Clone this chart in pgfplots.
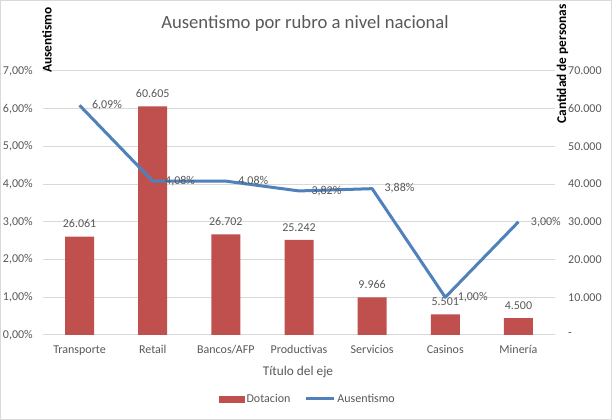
\documentclass[border=0pt]{standalone}
\usepackage{pgfplots}
\pgfplotsset{compat=1.18}
\usepackage{fontspec}
\setmainfont{Carlito}
\definecolor{barred}{HTML}{C0504D}
\definecolor{lineblue}{HTML}{4F81BD}
\definecolor{txtgray}{HTML}{595959}
\definecolor{gridgray}{HTML}{D9D9D9}
\newcommand\ft{\fontsize{12bp}{14bp}\selectfont}
\newcommand\fm{\fontsize{13.33bp}{16bp}\selectfont}
\begin{document}
\begin{tikzpicture}
\useasboundingbox (0,0) rectangle (612bp,420bp);
\fill[white] (0,0) rectangle (612bp,420bp);
\draw[gridgray, line width=1bp] (0.5bp,0.5bp) rectangle (611.5bp,419.5bp);
\begin{axis}[
  at={(43bp,85bp)}, anchor=south west,
  width=512bp, height=264bp, scale only axis,
  xmin=-0.5, xmax=6.5,
  ymin=0, ymax=70000,
  axis x line*=bottom, axis y line*=right,
  x axis line style={-, draw=gridgray, line width=1bp},
  y axis line style={draw=none},
  major tick length=0pt,
  xtick={0,1,2,3,4,5,6},
  xticklabels={Transporte,Retail,Bancos/AFP,Productivas,Servicios,Casinos,Minería},
  ytick={0,10000,20000,30000,40000,50000,60000,70000},
  yticklabels={-,10.000,20.000,30.000,40.000,50.000,60.000,70.000},
  scaled y ticks=false,
  ymajorgrids, grid style={gridgray, line width=1bp},
  xticklabel style={font=\ft, text=txtgray, anchor=base, inner sep=0pt, yshift=-19bp},
  yticklabel style={font=\ft, text=txtgray, anchor=west, inner sep=0pt, xshift=13bp},
  /pgf/number format/assume math mode=true,
  clip=false,
]
\addplot[ybar, bar width=29bp, fill=barred, draw=none,
  nodes near coords={\pgfmathprintnumber[fixed,precision=0,1000 sep={.}]{\pgfplotspointmeta}},
  every node near coord/.append style={font=\ft, text=txtgray, anchor=south, inner sep=0pt, yshift=8.5bp}]
  coordinates {(0,26061) (1,60605) (2,26702) (3,25242) (4,9966) (5,5501) (6,4500)};
\end{axis}
\begin{axis}[
  at={(43bp,85bp)}, anchor=south west,
  width=512bp, height=264bp, scale only axis,
  xmin=-0.5, xmax=6.5,
  ymin=0, ymax=7,
  axis x line=none, axis y line*=left,
  y axis line style={draw=none},
  major tick length=0pt,
  ytick={0,1,2,3,4,5,6,7},
  yticklabels={{0,00\%},{1,00\%},{2,00\%},{3,00\%},{4,00\%},{5,00\%},{6,00\%},{7,00\%}},
  yticklabel style={font=\ft, text=txtgray, anchor=east, inner sep=0pt, xshift=-10bp},
  /pgf/number format/assume math mode=true,
  legend style={at={(0.5176,-0.2424)}, anchor=center, draw=none, fill=none,
    font=\ft, text=txtgray, legend columns=2, inner sep=0pt,
    /tikz/every even column/.append style={column sep=12bp},
    nodes={inner sep=2bp}},
  legend cell align=left,
  clip=false,
]
\addlegendimage{legend image code/.code={\fill[barred] (0bp,-3bp) rectangle (25bp,3bp);}}
\addlegendentry{Dotacion}
\addplot[lineblue, line width=3bp, line join=round,
  legend image code/.code={\draw[lineblue,line width=3bp] (0bp,0bp) -- (28bp,0bp);},
  nodes near coords={\pgfmathprintnumber[fixed,fixed zerofill,precision=2,use comma]{\pgfplotspointmeta}\%},
  every node near coord/.append style={font=\ft, text=txtgray, anchor=west, inner sep=0pt, xshift=11bp}]
  coordinates {(0,6.09) (1,4.08) (2,4.08) (3,3.82) (4,3.88) (5,1.00) (6,3.00)};
\addlegendentry{Ausentismo}
\end{axis}
\node[font=\fontsize{18.67bp}{22bp}\selectfont, text=txtgray, anchor=base] at (305bp,391.5bp) {Ausentismo por rubro a nivel nacional};
\node[font=\fm, text=txtgray, anchor=base] at (298bp,44.3bp) {Título del eje};
\node[font=\fm\bfseries, rotate=90, anchor=base, inner sep=0pt] at (51.7bp,380bp) {Ausentismo};
\node[font=\fm\bfseries, rotate=90, anchor=base, inner sep=0pt] at (566bp,356bp) {Cantidad de personas};
\end{tikzpicture}
\end{document}
